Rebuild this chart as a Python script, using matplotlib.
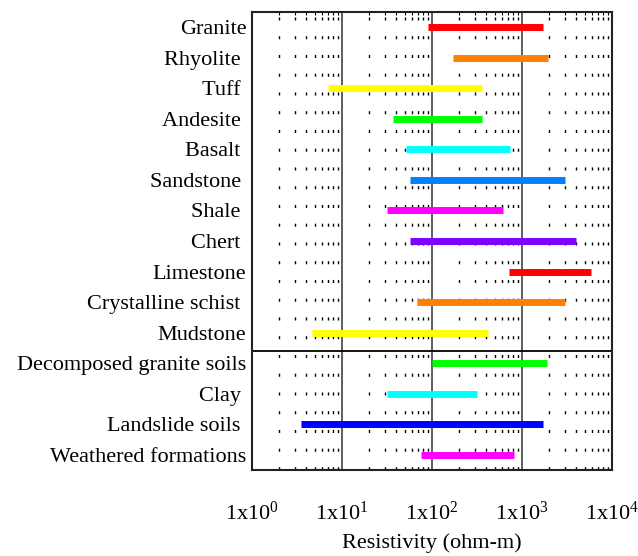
import matplotlib
matplotlib.use("Agg")
import matplotlib.pyplot as plt
from matplotlib.ticker import LogLocator, NullFormatter, FixedLocator

plt.rcParams['font.family'] = ['Liberation Serif', 'DejaVu Serif']
plt.rcParams['mathtext.fontset'] = 'custom'
plt.rcParams['mathtext.rm'] = 'Liberation Serif'
plt.rcParams['mathtext.it'] = 'Liberation Serif:italic'

# rock / soil types, top to bottom
names = ['Granite', 'Rhyolite ', 'Tuff ', 'Andesite ', 'Basalt ', 'Sandstone ',
         'Shale ', 'Chert ', 'Limestone', 'Crystalline schist ', 'Mudstone',
         'Decomposed granite soils', 'Clay ', 'Landslide soils ',
         'Weathered formations']
# resistivity ranges (ohm-m)
low = [90, 170, 7, 37, 51, 57, 32, 57, 715, 68, 4.6, 100, 32, 3.5, 75]
high = [1700, 1950, 360, 360, 740, 3000, 610, 3950, 5850, 3000, 420, 1900, 315, 1700, 815]
colors = ['#ff0000', '#ff8000', '#ffff00', '#00ff00', '#00ffff', '#0080ff',
          '#ff00ff', '#8000ff', '#ff0000', '#ff8000', '#ffff00', '#00ff00',
          '#00ffff', '#0000ff', '#ff00ff']
xticks = [1, 10, 100, 1000, 10000]
xticklabels = ['1x10$^{0}$', '1x10$^{1}$', '1x10$^{2}$', '1x10$^{3}$', '1x10$^{4}$']

fig = plt.figure(figsize=(6.38, 5.56), dpi=100)
ax = fig.add_axes([0.395, 0.1547, 0.564, 0.8237])

ypos = list(range(len(names)))
for y, lo, hi, c in zip(ypos, low, high, colors):
    ax.plot([lo, hi], [y, y], color=c, lw=5.0, solid_capstyle='butt', zorder=3)

ax.set_xscale('log')
ax.set_xlim(1, 10000)
ax.set_ylim(len(names) - 0.5, -0.5)

# separator between rocks and soils
ax.axhline(10.6, color='black', lw=1.3, zorder=2)

# grid: solid majors, dashed minors
ax.xaxis.set_major_locator(FixedLocator(xticks))
ax.xaxis.set_minor_locator(LogLocator(base=10, subs=range(2, 10), numticks=20))
ax.xaxis.set_minor_formatter(NullFormatter())
ax.grid(True, which='major', axis='x', color='#333333', lw=1.1)
ax.grid(True, which='minor', axis='x', color='black', lw=1.0,
        linestyle=(0, (2.2, 11.3)))

ax.set_xticks(xticks)
ax.set_xticklabels(xticklabels, fontsize=16)
ax.set_yticks(ypos)
ax.set_yticklabels(names, fontsize=16)
ax.tick_params(axis='y', length=0, pad=4)
ax.tick_params(axis='x', which='both', direction='in', top=True, pad=23)
ax.tick_params(axis='x', which='major', length=0)
ax.tick_params(axis='x', which='minor', length=2.5, width=0.8)

for s in ax.spines.values():
    s.set_linewidth(1.5)
    s.set_color('#222222')

ax.set_xlabel('Resistivity (ohm-m)', fontsize=16, labelpad=6)

fig.savefig('out.png', dpi=100)
